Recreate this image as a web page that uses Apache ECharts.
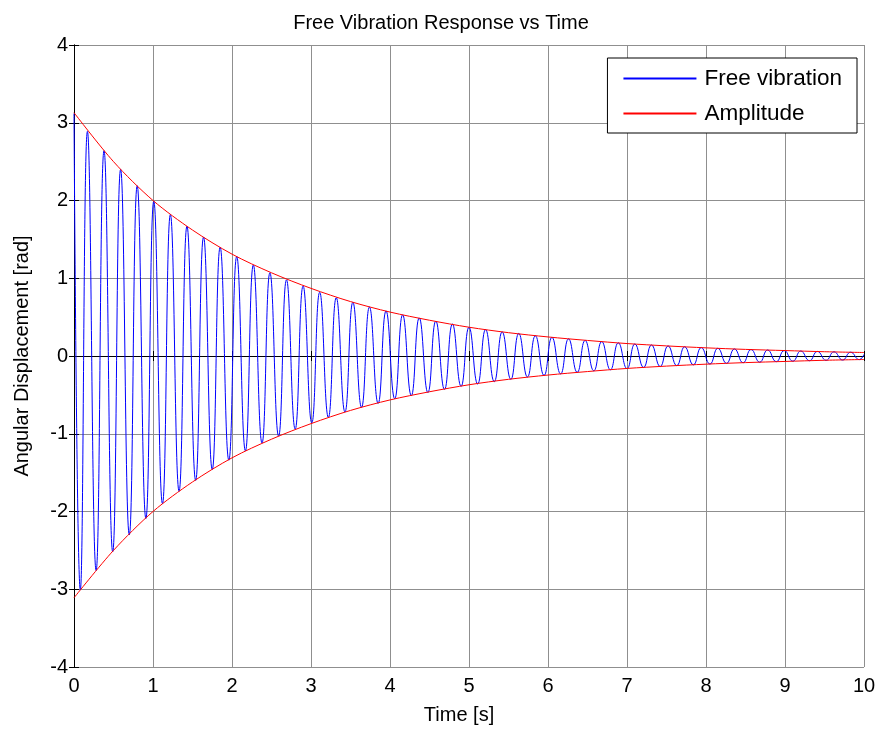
<!DOCTYPE html>
<html>
<head>
<meta charset="utf-8">
<script src="https://cdn.jsdelivr.net/npm/echarts@6/dist/echarts.min.js"></script>
<style>
  html, body { margin: 0; padding: 0; background: #fff; }
  #main { width: 882px; height: 740px; }
</style>
</head>
<body>
<div id="main"></div>
<script>
// free vibration: extrema (t in s, displacement in rad)
var timeS = [
  0, 0.08, 0.17, 0.28, 0.38, 0.49, 0.59, 0.70, 0.80, 0.91,
  1.01, 1.12, 1.22, 1.33, 1.43, 1.54, 1.64, 1.75, 1.85, 1.96,
  2.06, 2.17, 2.27, 2.38, 2.48, 2.59, 2.69, 2.80, 2.90, 3.01,
  3.11, 3.22, 3.32, 3.43, 3.53, 3.64, 3.74, 3.85, 3.95, 4.06,
  4.16, 4.27, 4.37, 4.48, 4.58, 4.69, 4.79, 4.90, 5.00, 5.11,
  5.21, 5.32, 5.42, 5.53, 5.63, 5.74, 5.84, 5.95, 6.05, 6.16,
  6.26, 6.37, 6.47, 6.58, 6.68, 6.79, 6.89, 7.00, 7.10, 7.21,
  7.31, 7.42, 7.52, 7.63, 7.73, 7.84, 7.94, 8.05, 8.15, 8.26,
  8.36, 8.47, 8.57, 8.68, 8.78, 8.89, 8.99, 9.10, 9.20, 9.31,
  9.41, 9.52, 9.62, 9.73, 9.83, 9.94, 10.0
];
var displacement = [
  3.12, -3.01, 2.89, -2.76, 2.64, -2.52, 2.40, -2.30, 2.19, -2.09,
  1.99, -1.90, 1.82, -1.74, 1.67, -1.60, 1.53, -1.46, 1.40, -1.34,
  1.28, -1.22, 1.17, -1.12, 1.07, -1.03, 0.98, -0.94, 0.90, -0.86,
  0.82, -0.79, 0.75, -0.72, 0.69, -0.66, 0.63, -0.61, 0.58, -0.55,
  0.53, -0.51, 0.49, -0.47, 0.45, -0.43, 0.41, -0.39, 0.37, -0.36,
  0.34, -0.33, 0.31, -0.30, 0.29, -0.27, 0.26, -0.25, 0.24, -0.23,
  0.22, -0.21, 0.20, -0.19, 0.185, -0.177, 0.169, -0.162, 0.155, -0.148,
  0.142, -0.136, 0.130, -0.124, 0.119, -0.114, 0.109, -0.104, 0.100, -0.095,
  0.091, -0.087, 0.084, -0.080, 0.077, -0.073, 0.070, -0.067, 0.064, -0.061,
  0.059, -0.056, 0.054, -0.052, 0.049, -0.047, 0.02
];

// amplitude envelope
var ampTime = [0, 0.5, 1, 1.5, 2, 2.5, 3, 3.5, 4, 4.5, 5, 5.5, 6, 6.5, 7, 7.5, 8, 8.5, 9, 9.5, 10];
var ampUpper = [3.13, 2.50, 2.00, 1.62, 1.31, 1.07, 0.87, 0.70, 0.565, 0.46, 0.37, 0.30, 0.245, 0.20, 0.16, 0.13, 0.105, 0.085, 0.07, 0.055, 0.045];
var ampLower = [-3.11, -2.50, -2.00, -1.62, -1.31, -1.07, -0.87, -0.70, -0.565, -0.46, -0.37, -0.30, -0.245, -0.20, -0.16, -0.13, -0.105, -0.085, -0.07, -0.055, -0.045];

var xTicks = { min: 0, max: 10, interval: 1 };
var yTicks = { min: -4, max: 4, interval: 1 };

function pairs(xs, ys) {
  return xs.map(function (x, i) { return [x, ys[i]]; });
}

var font = "'Liberation Sans', Arial, sans-serif";
var gridColor = '#8f8f8f';

var myChart = echarts.init(document.getElementById('main'));
myChart.setOption({
  animation: false,
  backgroundColor: '#fff',
  title: {
    text: 'Free Vibration Response vs Time',
    left: 'center',
    top: 8,
    textStyle: { fontFamily: font, fontSize: 20, fontWeight: 'normal', color: '#000' }
  },
  legend: {
    data: ['Free vibration', 'Amplitude'],
    orient: 'vertical',
    right: 25,
    top: 58,
    itemWidth: 73,
    itemHeight: 20,
    itemGap: 12,
    padding: [9, 15, 8, 15],
    backgroundColor: '#fff',
    borderColor: '#000',
    borderWidth: 1,
    borderRadius: 0,
    itemStyle: { opacity: 0 },
    textStyle: { fontFamily: font, fontSize: 22.5, lineHeight: 20, color: '#000', padding: [0, 0, 0, 3] }
  },
  grid: { left: 74, right: 18, top: 45, bottom: 73, containLabel: false },
  xAxis: [{
    type: 'value',
    min: xTicks.min, max: xTicks.max, interval: xTicks.interval,
    position: 'bottom',
    name: 'Time [s]',
    nameLocation: 'middle',
    nameGap: 38,
    nameTextStyle: { fontFamily: font, fontSize: 20, color: '#000', padding: [0, 20, 0, 0] },
    axisLine: { show: true, lineStyle: { color: '#000', width: 1 } },
    axisTick: { show: true, inside: true, length: 5, lineStyle: { color: '#000' } },
    axisLabel: { margin: 9, fontFamily: font, fontSize: 20, color: '#000' },
    splitLine: { show: true, lineStyle: { color: gridColor, width: 1 } }
  }, {
    type: 'value',
    min: xTicks.min, max: xTicks.max, interval: xTicks.interval,
    position: 'top',
    axisLine: { show: true, lineStyle: { color: '#000', width: 1 } },
    axisTick: { show: true, inside: true, length: 5, lineStyle: { color: '#000' } },
    axisLabel: { show: false },
    splitLine: { show: false }
  }],
  yAxis: [{
    type: 'value',
    min: yTicks.min, max: yTicks.max, interval: yTicks.interval,
    position: 'left',
    name: 'Angular Displacement [rad]',
    nameLocation: 'middle',
    nameGap: 42,
    nameTextStyle: { fontFamily: font, fontSize: 20, color: '#000' },
    axisLine: { show: true, lineStyle: { color: '#000', width: 1 } },
    axisTick: { show: true, inside: true, length: 5, lineStyle: { color: '#000' } },
    axisLabel: { margin: 6, fontFamily: font, fontSize: 20, color: '#000' },
    splitLine: { show: true, lineStyle: { color: gridColor, width: 1 } }
  }, {
    type: 'value',
    min: yTicks.min, max: yTicks.max, interval: yTicks.interval,
    position: 'right',
    axisLine: { show: true, lineStyle: { color: '#000', width: 1 } },
    axisTick: { show: true, inside: true, length: 5, lineStyle: { color: '#000' } },
    axisLabel: { show: false },
    splitLine: { show: false }
  }],
  series: [{
    name: 'Free vibration',
    type: 'line',
    data: pairs(timeS, displacement),
    symbol: 'none',
    smooth: 0.5,
    lineStyle: { color: '#0000ff', width: 1 },
    itemStyle: { color: '#0000ff' },
    z: 2
  }, {
    name: 'Amplitude',
    type: 'line',
    data: pairs(ampTime, ampUpper),
    symbol: 'none',
    smooth: 0.3,
    lineStyle: { color: '#ff0000', width: 1 },
    itemStyle: { color: '#ff0000' },
    z: 3
  }, {
    name: 'Amplitude',
    type: 'line',
    data: pairs(ampTime, ampLower),
    symbol: 'none',
    smooth: 0.3,
    lineStyle: { color: '#ff0000', width: 1 },
    itemStyle: { color: '#ff0000' },
    z: 3
  }]
});
</script>
</body>
</html>
